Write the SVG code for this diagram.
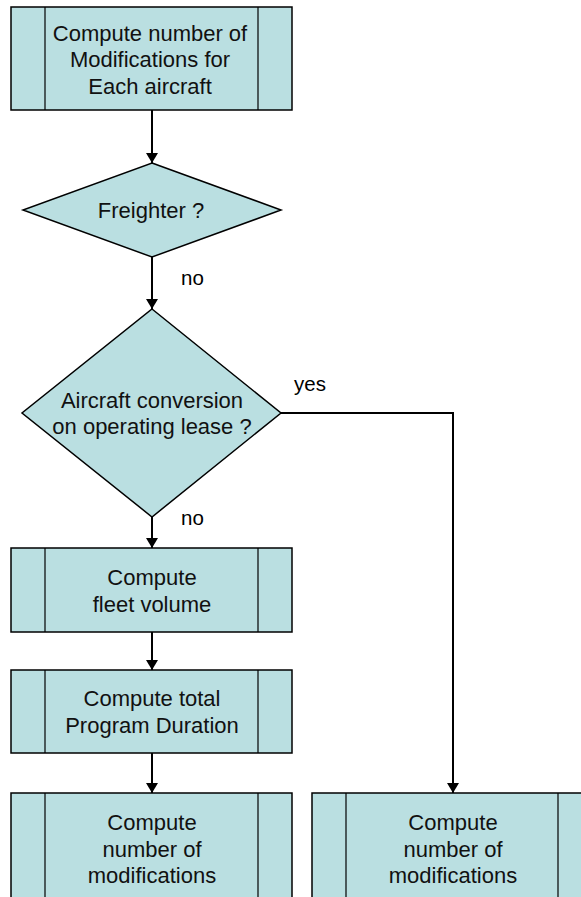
<svg xmlns="http://www.w3.org/2000/svg" width="581" height="897" viewBox="0 0 581 897">
<defs>
<style>
.n{fill:#BADFE1;stroke:#000;stroke-width:1.5}
.d{stroke:#000;stroke-width:1.2;fill:none}
.t{font-family:"Liberation Sans",Arial,sans-serif;font-size:22px;fill:#111;text-anchor:middle}
.l{font-family:"Liberation Sans",Arial,sans-serif;font-size:20.5px;fill:#000}
.c{stroke:#000;stroke-width:2;fill:none;marker-end:url(#ah)}
</style>
<marker id="ah" viewBox="0 0 10 12" refX="10" refY="6" markerWidth="10" markerHeight="12" markerUnits="userSpaceOnUse" orient="auto">
<path d="M0,0 L10,6 L0,12 Z" fill="#000"/>
</marker>
</defs>
<rect width="581" height="897" fill="#fff"/>
<g id="connectors">
<line class="c" x1="152" y1="110" x2="152" y2="163"/>
<line class="c" x1="152" y1="257" x2="152" y2="309"/>
<line class="c" x1="152" y1="517" x2="152" y2="548"/>
<line class="c" x1="152" y1="632" x2="152" y2="670"/>
<line class="c" x1="152" y1="753" x2="152" y2="793"/>
<polyline class="c" points="281,413 453,413 453,793"/>
<text class="l" x="181" y="285">no</text>
<text class="l" x="294" y="391">yes</text>
<text class="l" x="181" y="525">no</text>
</g>
<g id="box1">
<rect class="n" x="11" y="7" width="281" height="103"/>
<line class="d" x1="45" y1="7" x2="45" y2="110"/>
<line class="d" x1="258" y1="7" x2="258" y2="110"/>
<text class="t" x="150" y="41">Compute number of</text>
<text class="t" x="150" y="67">Modifications for</text>
<text class="t" x="150" y="94">Each aircraft</text>
</g>
<g id="freighter">
<polygon class="n" points="152,163 281,210 152,257 23,210"/>
<text class="t" x="151" y="218">Freighter ?</text>
</g>
<g id="lease">
<polygon class="n" points="152,309 281,413 152,517 22,413"/>
<text class="t" x="152" y="408">Aircraft conversion</text>
<text class="t" x="152" y="434">on operating lease ?</text>
</g>
<g id="fleet">
<rect class="n" x="11" y="548" width="281" height="84"/>
<line class="d" x1="45" y1="548" x2="45" y2="632"/>
<line class="d" x1="258" y1="548" x2="258" y2="632"/>
<text class="t" x="152" y="585">Compute</text>
<text class="t" x="152" y="612">fleet volume</text>
</g>
<g id="duration">
<rect class="n" x="11" y="670" width="281" height="83"/>
<line class="d" x1="45" y1="670" x2="45" y2="753"/>
<line class="d" x1="258" y1="670" x2="258" y2="753"/>
<text class="t" x="152" y="706">Compute total</text>
<text class="t" x="152" y="733">Program Duration</text>
</g>
<g id="mods-left">
<rect class="n" x="11" y="793" width="281" height="120"/>
<line class="d" x1="45" y1="793" x2="45" y2="913"/>
<line class="d" x1="258" y1="793" x2="258" y2="913"/>
<text class="t" x="152" y="830">Compute</text>
<text class="t" x="152" y="857">number of</text>
<text class="t" x="152" y="883">modifications</text>
</g>
<g id="mods-right">
<rect class="n" x="312" y="793" width="281" height="120"/>
<line class="d" x1="346" y1="793" x2="346" y2="913"/>
<line class="d" x1="558" y1="793" x2="558" y2="913"/>
<text class="t" x="453" y="830">Compute</text>
<text class="t" x="453" y="857">number of</text>
<text class="t" x="453" y="883">modifications</text>
</g>
</svg>
